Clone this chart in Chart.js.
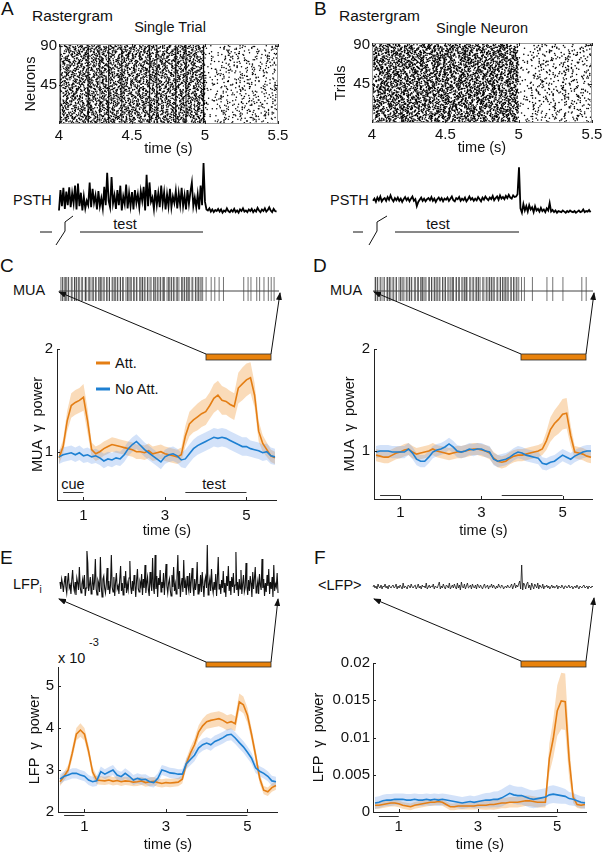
<!DOCTYPE html>
<html><head><meta charset="utf-8">
<script src="https://cdn.jsdelivr.net/npm/chart.js@4/dist/chart.umd.min.js"></script>
<style>
html,body{margin:0;padding:0;background:#fff;overflow:hidden;width:602px;height:853px}
#root{position:relative;width:602px;height:853px;font-family:"Liberation Sans",Arial,sans-serif;color:#111}
canvas{position:absolute}
.t{position:absolute;line-height:1;white-space:nowrap}
.c{transform:translateX(-50%)}
svg{position:absolute;left:0;top:0}
</style></head><body><div id="root">
<div class="t" style="left:1px;top:-1px;font-size:19px">A</div>
<div class="t" style="left:32px;top:8px;font-size:15.5px">Rastergram</div>
<div class="t c" style="left:170px;top:20px;font-size:14.5px">Single Trial</div>
<div class="t" style="left:314px;top:-1px;font-size:19px">B</div>
<div class="t" style="left:339px;top:8px;font-size:15.5px">Rastergram</div>
<div class="t c" style="left:482px;top:21px;font-size:14.5px">Single Neuron</div>
<div class="t" style="left:13px;top:193px;font-size:14.5px">PSTH</div>
<div class="t c" style="left:125px;top:217px;font-size:14.5px">test</div>
<div class="t" style="left:330px;top:193px;font-size:14.5px">PSTH</div>
<div class="t c" style="left:438px;top:217px;font-size:14.5px">test</div>
<div class="t" style="left:0px;top:256px;font-size:19px">C</div>
<div class="t" style="left:13px;top:283px;font-size:14.5px">MUA</div>
<div class="t" style="left:313px;top:256px;font-size:19px">D</div>
<div class="t" style="left:330px;top:283px;font-size:14.5px">MUA</div>
<div class="t" style="left:115px;top:356px;font-size:14.5px">Att.</div>
<div class="t" style="left:115px;top:382px;font-size:14.5px">No Att.</div>
<div class="t c" style="left:73px;top:477px;font-size:14.5px">cue</div>
<div class="t c" style="left:214px;top:477px;font-size:14.5px">test</div>
<div class="t" style="left:0px;top:548px;font-size:19px">E</div>
<div class="t" style="left:13px;top:577px;font-size:14.5px">LFP<sub style="font-size:10px">i</sub></div>
<div class="t" style="left:314px;top:548px;font-size:19px">F</div>
<div class="t" style="left:318px;top:578px;font-size:14.5px">&lt;LFP&gt;</div>
<div class="t" style="left:58px;top:651px;font-size:14.5px">x 10</div>
<div class="t" style="left:89px;top:637px;font-size:11px">-3</div>
<svg id="ov" width="602" height="853">
<defs><marker id="ah" markerWidth="8" markerHeight="6" refX="7" refY="3" orient="auto" markerUnits="userSpaceOnUse"><path d="M0,0 L8,3 L0,6 z" fill="#111"/></marker></defs>
<g stroke="#444" stroke-width="1">
<line x1="59" y1="291" x2="279" y2="291"/><line x1="373" y1="291" x2="593" y2="291"/>
</g>
<g stroke="#111" stroke-width="1" fill="none">
<line x1="206" y1="354" x2="59" y2="292" marker-end="url(#ah)"/>
<line x1="271" y1="354" x2="280" y2="293" marker-end="url(#ah)"/>
<line x1="521" y1="354" x2="374" y2="292" marker-end="url(#ah)"/>
<line x1="586" y1="354" x2="594" y2="293" marker-end="url(#ah)"/>
<line x1="206" y1="662" x2="59" y2="599" marker-end="url(#ah)"/>
<line x1="271" y1="662" x2="278" y2="599" marker-end="url(#ah)"/>
<line x1="521" y1="661" x2="374" y2="599" marker-end="url(#ah)"/>
<line x1="586" y1="661" x2="594" y2="598" marker-end="url(#ah)"/>
<line x1="40" y1="232" x2="52" y2="232"/><polyline points="56,245 65,231 65,222 73,216"/><line x1="80" y1="232" x2="203" y2="232"/>
<line x1="353" y1="232" x2="363" y2="232"/><polyline points="369,245 377,231 377,222 387,216"/><line x1="395" y1="232" x2="519" y2="232"/>
</g>
<g fill="#E8820C" stroke="#2a2a2a" stroke-width="0.8">
<rect x="206" y="354" width="65" height="6"/><rect x="521" y="354" width="65" height="6"/>
<rect x="206" y="662" width="65" height="5"/><rect x="521" y="661" width="65" height="6"/>
</g>
<line x1="96" y1="363" x2="110" y2="363" stroke="rgb(228,126,20)" stroke-width="3"/>
<line x1="96" y1="389" x2="110" y2="389" stroke="rgb(30,128,210)" stroke-width="3"/>
</svg>
</div>
<script>
// ---------------- DATA ----------------
// Rasters: inter-spike gaps (base36 characters). Each of the 90 rows reads a gap sequence starting at its own offset.
const rasterOffsets = [0,73,141,28,115,52,167,9,96,134,41,182,63,17,150,88,5,121,59,176,33,104,148,71,12,159,85,26,131,47,
 186,99,64,3,143,112,38,171,80,21,157,127,55,94,10,180,67,139,30,108,162,45,86,1,123,154,76,36,169,101,
 14,137,58,92,183,24,117,49,145,6,173,82,129,40,160,19,105,65,152,31,178,90,8,125,61,164,44,110,135,77];
// A (single trial): 4-5 s gaps in 2.5 ms units, 5-5.5 s gaps in 5 ms units
const gapsA_test = "5b2h19d3k7a4f62m8c1e5t3g47b9j2a6r4c18e3h5d92o6f1k4b73a8i2g5c6p14e9d3b7h2a58l6f1c4j93e2b7a5s1d86g3k2c9f4a71h5e3m6b2d8a4q19c7g3f5b2e64i1d8a3h7c25k9b4f6e1a3n8d5g2c7b41j6h3e9a2";
const gapsA_after = "k7qfm3tj9rbo2wgl5pdsi8nh4ua6ecv1mk9qj3tfr7lb2oh5gw8ps4dn6ie1ku3rm9ja7qf2tl5bh8og4wd6sc1pn3ie9kr";
// synchronous events (vertical stripes) in raster A, seconds, and their strength
const syncTimesA = [4.01,4.2,4.28,4.34,4.43,4.62,4.67,4.8,4.87,4.99];
const syncAlphaA = [0.7,0.8,0.45,0.85,0.6,0.75,0.6,0.8,0.7,1];
// B (single neuron, 90 trials)
const gapsB_test = "37a1p2258c4k916b3e1174g2d9o53h1a26c8m14572f3b1ie9342k7d61ja5383c1h4q7296e2b5l18d4g33a6172n5c9f41b27e3k86d2a1i45g7c39h6e14b2r8a5d3716f2c4j95b1g83e7a2m46d51c9h3b8274k1f6a3o5e2d84";
const gapsB_after = "gm4rkd8tqh2sfj6pbn9lwe3oic7uag5rmk1tdq8hsj4fpl6bnw2eoi9cgu3krm7qtd5hfs1jpb8lnw4eoi6cga2rkm";
const rasterXTicks = [4, 4.5, 5, 5.5];
const rasterYTicks = [45, 90];

// PSTH, 10 ms bins from 4.00 s (arbitrary units)
const psthA = [12,50,20,54,15,47,22,55,18,44, 25,58,14,62,20,45,12,38,16,30, 22,64,18,52,26,40,14,48,20,35,
 16,56,22,82,30,18,74,25,40,15, 50,22,58,12,38,24,60,16,44,20, 46,14,50,26,42,18,48,30,56,12,
 78,20,64,28,36,15,50,22,44,18, 58,24,46,14,42,20,52,18,38,26, 48,16,44,22,54,20,40,14,50,24,
 46,64,20,36,18,42,14,58,22,100, 28, 14,12,16,10,14,9,13,11,15,10, 14,8,12,10,16,11,9,13,10,15,
 9,12,8,14,11,16,10,12,9,14, 11,15,9,13,10,17,12,9,14,11, 16,10,13,18,12,9,15,11,10];
const psthB = [30,34,28,36,31,38,29,33,35,30, 37,32,40,33,29,35,31,36,30,34, 28,33,37,31,35,29,34,38,30,33,
 20,28,32,36,30,34,29,33,35,31, 37,30,34,28,33,36,31,35,29,34, 32,36,30,34,38,31,29,35,33,37,
 30,34,31,36,29,33,38,32,35,30, 34,31,37,33,29,36,32,38,34,31, 36,33,39,31,35,38,32,40,34,37,
 33,39,35,41,36,34,40,37,38,42, 92, 16,8,24,12,20,10,22,14,18,9, 20,12,15,10,17,11,14,9,16,12,
 26,10,13,9,12,8,11,10,9,12, 10,8,11,9,12,10,9,11,8,10, 12,9,10,14,9,11,10,13,9];

// MUA spike trains: dense part gaps in 2 ms units (base36) from 4 s; later spikes in ms after 5 s
const muaDenseC = "35271462938152647392184563729153648271935462817395246183729451638274915637281495362718459362715483927164583917263548192736451829374651";
const muaLateC = [10,45,70,100,130,270,300,320,360,380,410,440,460,480];
const muaDenseD = "41628375916247381952648371629473815264937182546391728465319273846152947381625948371625493817263549182736458192374651827394651";
const muaLateD = [15,35,90,190,230,300,430,460];

// LFP traces over 4-5.5 s
const lfpE = [3,-4,6,1,-7,2,9,-2,-8,4,12,-3,0,-9,5,15,-1,-6,3,-10,
 7,2,-5,18,-2,-8,1,6,-4,10,-11,-3,34,22,-6,0,8,-9,-2,11,
 -5,3,26,-4,-10,5,2,-7,28,-1,-12,6,9,-3,-8,1,17,-5,4,-9,
 0,30,-2,-7,8,-11,3,12,-4,-1,-9,6,19,-6,2,-10,9,-3,14,-8,
 1,-5,7,24,-2,-9,4,-6,10,0,-12,5,16,-4,-7,3,-1,11,-10,6,
 -3,20,-8,2,8,-5,-11,13,1,-6,27,-2,-9,30,-4,9,-12,7,0,15,
 -7,3,-3,12,-10,5,21,-1,-8,2,6,-5,-11,10,-2,18,-6,1,-9,8,
 30,-4,14,-12,0,7,-7,25,-3,3,-10,9,-1,-6,12,-8,5,17,-2,-11,
 6,-5,2,23,-9,1,-4,10,-7,13,-1,-12,4,8,-3,40,-10,0,6,-6,
 16,-2,-8,3,-5,11,-11,7,28,-4,1,-9,5,-3,14,-7,2,-12,9,-1,
 19,-6,4,-10,8,-2,12,-8,0,33,-5,3,-11,6,-4,15,-9,1,10,-7,
 -3,22,-1,-10,5,-6,9,2,-12,13,-4,7,18,-8,-2,4,-9,11,0,-5,
 26,-3,6,-11,2,-7,10,-1,16,-9,3,-4,8,-12,20,-6,1,-2,12,-8];
const lfpF = [0,2,-1,1,-2,3,0,-1,2,-2,1,0,3,-1,1,-2,2,0,-1,1,
 2,-1,0,3,-2,1,-1,2,0,-2,4,-1,1,0,-2,2,1,-1,3,0,
 -1,1,2,-2,0,3,-1,1,-2,2,0,1,-1,4,-2,0,2,-1,1,0,
 3,-2,1,0,-1,2,5,-2,1,-1,3,0,-2,2,1,-1,4,-2,0,2,
 -1,3,0,-2,4,-1,2,-3,5,0,-1,3,-2,1,4,-1,0,2,-2,3,
 0,-1,2,-2,3,1,-1,2,0,-2,1,3,-1,0,2,-2,1,0,3,-1,
 2,0,-2,1,-1,3,0,-1,2,1,-2,0,1,-1,2,0,-1,1,3,-2,
 1,4,-1,2,0,3,6,-2,22,-3,4,2,-2,3,5,-1,2,-3,4,1,
 -2,3,1,-1,4,-2,2,0,-1,3,-2,1,0,2,-1,1,-2,0,2,-1,
 1,-1,0,2,-2,1,0,-1,2,0,-2,1,1,-1,0,2,-1,0,1,-2,
 0,1,-1,2,0,-2,1,0,-1,1,2,-1,0,1,-2,1,0,-1,1,0];

// gamma power time axis (s)
const tPow = [0.4,0.5,0.6,0.7,0.8,0.9,1.0,1.1,1.2,1.3,1.4,1.5,1.6,1.7,1.8,1.9,2.0,2.1,2.2,2.3,2.4,2.5,2.6,2.7,2.8,2.9,3.0,3.1,3.2,3.3,3.4,3.5,3.6,3.7,3.8,3.9,4.0,4.1,4.2,4.3,4.4,4.5,4.6,4.7,4.8,4.9,5.0,5.1,5.2,5.3,5.4,5.5,5.6,5.7];
const powXTicks = [1, 3, 5];
const stimCue = [0.5, 1.0];
const stimTest = [3.5, 5.0];
// C: MUA gamma power, single neuron
const cAtt = [0.94,1.05,1.3,1.45,1.48,1.5,1.53,1.3,1.02,0.98, 1.0,1.03,1.05,1.07,1.06,1.05,1.04,1.03,1.02,1.0, 1.0,0.99,1.01,0.98,0.99,1.0,0.98,0.97,0.96,0.95, 0.97,1.15,1.27,1.31,1.34,1.37,1.39,1.45,1.52,1.55, 1.5,1.49,1.46,1.44,1.62,1.66,1.7,1.72,1.55,1.2, 1.08,1.02,0.96,0.94];
const cAttSem = [0.06,0.07,0.1,0.12,0.12,0.12,0.13,0.12,0.07,0.07, 0.07,0.07,0.07,0.07,0.07,0.07,0.07,0.07,0.07,0.07, 0.07,0.07,0.07,0.07,0.07,0.07,0.07,0.07,0.07,0.07, 0.07,0.1,0.12,0.12,0.13,0.13,0.13,0.13,0.14,0.14, 0.14,0.13,0.13,0.13,0.15,0.16,0.16,0.15,0.12,0.1, 0.08,0.07,0.06,0.06];
const cNo = [0.95,0.97,0.98,0.99,0.97,0.99,0.96,0.97,0.95,0.96, 0.94,0.91,0.93,0.92,0.94,0.93,0.97,1.03,1.07,1.1, 1.06,1.02,0.99,0.96,0.93,0.9,0.95,0.97,0.98,0.96, 0.92,0.93,0.98,1.03,1.06,1.08,1.1,1.12,1.14,1.13, 1.14,1.13,1.11,1.09,1.07,1.05,1.05,1.03,1.02,1.01, 0.99,1.0,0.96,0.95];
const cNoSem = [0.07,0.07,0.07,0.07,0.07,0.07,0.07,0.07,0.07,0.07, 0.07,0.07,0.07,0.07,0.07,0.07,0.07,0.07,0.07,0.07, 0.07,0.07,0.07,0.07,0.07,0.07,0.07,0.07,0.07,0.07, 0.07,0.09,0.09,0.09,0.09,0.09,0.09,0.09,0.09,0.09, 0.09,0.09,0.09,0.09,0.09,0.09,0.09,0.08,0.08,0.08, 0.08,0.08,0.08,0.08];
// D: MUA gamma power, population
const dAtt = [0.96,0.95,0.94,0.94,0.96,0.98,0.99,1.01,1.02,0.99, 0.97,0.98,0.99,1.0,1.02,1.0,0.99,0.98,0.97,0.98, 0.99,0.99,1.0,1.01,1.02,1.02,1.01,1.0,0.98,0.93, 0.9,0.89,0.9,0.93,0.95,0.96,0.96,0.97,0.98,0.99, 1.0,1.02,1.1,1.21,1.27,1.31,1.36,1.37,1.15,0.99, 0.98,0.97,0.95,0.94];
const dAttSem = [0.06,0.06,0.06,0.06,0.06,0.06,0.06,0.06,0.06,0.06, 0.06,0.06,0.06,0.06,0.06,0.06,0.06,0.06,0.06,0.06, 0.06,0.06,0.06,0.06,0.06,0.06,0.06,0.06,0.06,0.06, 0.06,0.06,0.06,0.06,0.06,0.06,0.06,0.06,0.06,0.06, 0.06,0.06,0.09,0.12,0.13,0.14,0.15,0.15,0.1,0.06, 0.06,0.06,0.06,0.06];
const dNo = [0.99,1.0,1.0,1.0,0.99,0.99,0.99,0.99,1.02,0.98, 0.92,0.9,0.9,0.94,0.99,1.01,1.02,1.04,1.07,1.04, 1.0,0.99,1.0,1.02,1.01,1.02,1.02,1.0,0.99,0.92, 0.9,0.91,0.92,0.94,0.97,0.99,0.98,0.96,0.95,0.94, 0.93,0.88,0.87,0.89,0.9,0.93,0.96,0.94,0.92,0.95, 0.97,0.99,1.0,1.0];
const dNoSem = [0.06,0.06,0.06,0.06,0.06,0.06,0.06,0.06,0.06,0.06, 0.06,0.06,0.06,0.06,0.06,0.06,0.06,0.06,0.06,0.06, 0.06,0.06,0.06,0.06,0.06,0.06,0.06,0.06,0.06,0.06, 0.06,0.06,0.06,0.06,0.06,0.06,0.06,0.06,0.06,0.06, 0.06,0.06,0.06,0.06,0.06,0.06,0.06,0.06,0.06,0.06, 0.06,0.06,0.06,0.06];
// E: LFP gamma power (x 10^-3), single site
const eAtt = [2.72,2.85,3.0,3.4,3.85,3.95,3.85,3.45,2.95,2.76, 2.75,2.74,2.76,2.73,2.75,2.72,2.74,2.73,2.71,2.72, 2.74,2.7,2.72,2.73,2.7,2.68,2.7,2.69,2.7,2.71, 2.78,3.15,3.4,3.6,3.9,4.05,4.15,4.18,4.2,4.22, 4.18,4.12,4.15,4.1,4.62,4.55,4.3,3.85,3.35,2.8, 2.52,2.48,2.58,2.63];
const eAttSem = [0.1,0.1,0.12,0.14,0.15,0.16,0.15,0.14,0.12,0.1, 0.1,0.1,0.1,0.1,0.1,0.1,0.1,0.1,0.1,0.1, 0.1,0.1,0.1,0.1,0.1,0.1,0.1,0.1,0.1,0.1, 0.1,0.12,0.14,0.15,0.16,0.17,0.17,0.18,0.18,0.18, 0.18,0.18,0.18,0.18,0.2,0.2,0.18,0.15,0.15,0.12, 0.1,0.1,0.1,0.1];
const eNo = [2.78,2.85,2.88,2.92,2.92,2.88,2.85,2.76,2.72,2.74, 2.96,2.9,2.95,3.0,2.88,2.84,2.92,2.85,2.76,2.8, 2.77,2.78,2.72,2.7,2.8,3.0,2.97,2.93,2.92,2.9, 2.9,3.15,3.25,3.35,3.52,3.6,3.64,3.6,3.68,3.72, 3.77,3.83,3.85,3.76,3.65,3.55,3.42,3.28,3.05,2.97, 2.92,2.85,2.74,2.72];
const eNoSem = [0.12,0.12,0.12,0.12,0.12,0.12,0.12,0.12,0.12,0.12, 0.12,0.12,0.12,0.12,0.12,0.12,0.12,0.12,0.12,0.12, 0.12,0.12,0.12,0.12,0.12,0.12,0.12,0.12,0.12,0.12, 0.12,0.13,0.14,0.14,0.14,0.14,0.14,0.14,0.14,0.14, 0.14,0.14,0.14,0.14,0.14,0.14,0.14,0.13,0.12,0.12, 0.12,0.12,0.12,0.12];
// F: LFP gamma power (x 10^-3), averaged LFP
const fAtt = [0.9,0.9,1.0,1.1,1.2,1.2,1.1,0.9,0.8,0.7, 0.9,1.0,1.1,1.2,1.3,1.3,1.4,1.3,1.0,0.7, 0.7,0.8,0.8,0.8,0.8,0.8,0.9,0.9,0.9,1.0, 1.0,1.1,1.2,1.2,1.3,1.3,1.3,1.4,1.5,1.5, 1.4,1.3,1.3,1.3,7.2,9.9,13.6,14.9,14.8,7.0, 2.0,1.0,0.9,1.0];
const fAttSem = [0.45,0.45,0.45,0.45,0.45,0.45,0.45,0.45,0.45,0.45, 0.45,0.45,0.45,0.45,0.45,0.45,0.45,0.45,0.45,0.45, 0.45,0.45,0.45,0.45,0.45,0.45,0.5,0.55,0.6,0.65, 0.7,0.7,0.7,0.7,0.7,0.7,0.7,0.7,0.7,0.7, 0.7,0.7,0.7,0.7,2.0,2.6,3.4,3.8,3.8,2.5, 0.8,0.45,0.45,0.45];
const fNo = [1.2,1.3,1.5,1.6,1.6,1.7,1.7,1.7,1.6,1.6, 1.7,1.6,1.6,1.7,1.6,1.7,1.6,1.7,1.6,1.5, 1.4,1.3,1.2,1.3,1.4,1.3,1.4,1.5,1.6,1.6, 1.7,1.7,1.9,2.2,2.5,2.3,2.2,2.2,2.0,1.8, 1.7,1.8,1.9,2.0,2.3,2.4,2.3,2.2,2.1,1.8, 1.7,1.5,1.3,1.2];
const fNoSem = [0.8,0.8,0.8,0.8,0.8,0.8,0.8,0.8,0.8,0.8, 0.8,0.8,0.8,0.8,0.8,0.8,0.8,0.8,0.8,0.8, 0.8,0.8,0.8,0.8,0.8,0.8,0.85,0.9,0.95,1.0, 1.05,1.1,1.15,1.2,1.2,1.2,1.2,1.2,1.2,1.2, 1.2,1.2,1.2,1.2,1.2,1.2,1.15,1.1,1.0,0.9, 0.85,0.8,0.8,0.8];

// ---------------- DRAWING ----------------
const FONT = '"Liberation Sans", Arial, sans-serif';
const ORANGE = 'rgb(228,126,20)', BLUE = 'rgb(30,128,210)';
const ORANGE_BAND = 'rgba(242,160,70,0.38)', BLUE_BAND = 'rgba(110,160,235,0.3)';
Chart.defaults.font.family = FONT;
Chart.defaults.color = '#111';
const root = document.getElementById('root');
const ov = document.getElementById('ov');

function mk(area, yW, xH, datasets, scales, decoOpts) {
  const pad = 12;
  const c = document.createElement('canvas');
  const w = area[2] - area[0] + yW + 2 * pad, h = area[3] - area[1] + xH + 2 * pad;
  c.width = w; c.height = h;
  c.style.left = (area[0] - yW - pad) + 'px'; c.style.top = (area[1] - pad) + 'px';
  root.insertBefore(c, ov);
  return new Chart(c, {
    type: 'scatter', data: { datasets },
    options: { responsive: false, animation: false, devicePixelRatio: 1, events: [],
      layout: { padding: pad }, plugins: { legend: { display: false }, tooltip: { enabled: false } }, scales },
    plugins: decoOpts ? [deco(decoOpts)] : []
  });
}
function hAxis(min, max, ticks, o) {
  o = o || {};
  if (o.display === false) return { type: 'linear', min, max, display: false };
  return { type: 'linear', min, max, position: 'bottom',
    afterBuildTicks: a => { a.ticks = ticks.map(v => ({ value: v })); },
    afterFit: s => { s.height = o.h; s.paddingLeft = 0; s.paddingRight = 0; },
    grid: { display: false, drawTicks: false }, border: { display: false },
    ticks: { padding: o.tp, color: '#111', font: { family: FONT, size: 15 }, maxRotation: 0, autoSkip: false, callback: v => String(v) },
    title: { display: true, text: 'time (s)', padding: 0, color: '#111', font: { family: FONT, size: 14.5 } } };
}
function vAxis(min, max, ticks, o) {
  o = o || {};
  if (o.display === false) return { type: 'linear', min, max, display: false };
  return { type: 'linear', min, max, position: 'left',
    afterBuildTicks: a => { a.ticks = ticks.map(v => ({ value: v })); },
    afterFit: s => { s.width = o.w; s.paddingTop = 0; s.paddingBottom = 0; },
    grid: { display: false, drawTicks: false }, border: { display: false },
    ticks: { padding: o.tp, color: '#111', font: { family: FONT, size: 15 }, autoSkip: false, callback: o.fmt || (v => String(v)) },
    title: { display: true, text: o.title, padding: 0, color: '#111', font: { family: FONT, size: 14.5 } } };
}
function deco(o) {
  return { id: 'deco', afterDatasetsDraw(ch) {
    const ctx = ch.ctx, a = ch.chartArea;
    const L = (x1, y1, x2, y2) => { ctx.beginPath(); ctx.moveTo(x1, y1); ctx.lineTo(x2, y2); ctx.stroke(); };
    ctx.save(); ctx.lineWidth = 1;
    if (o.box) { ctx.strokeStyle = '#9a9a9a'; ctx.strokeRect(a.left + 0.5, a.top + 0.5, a.right - a.left - 1, a.bottom - a.top - 1); }
    ctx.strokeStyle = '#222';
    if (o.spine) { L(a.left + 0.5, a.top, a.left + 0.5, a.bottom + 0.5); L(a.left, a.bottom + 0.5, a.right, a.bottom + 0.5); }
    if (o.xt) for (const v of o.xt) { const p = Math.round(ch.scales.x.getPixelForValue(v)) + 0.5; L(p, a.bottom, p, a.bottom - 3); if (o.box) L(p, a.top, p, a.top + 3); }
    if (o.yt) for (const v of o.yt) { const p = Math.round(ch.scales.y.getPixelForValue(v)) + 0.5; L(a.left, p, a.left + 3, p); if (o.box) L(a.right, p, a.right - 3, p); }
    if (o.stim) { ctx.strokeStyle = '#333'; for (const s of o.stim) { const y = Math.round(a.bottom + o.stimDy) + 0.5; L(ch.scales.x.getPixelForValue(s[0]), y, ch.scales.x.getPixelForValue(s[1]), y); } }
    ctx.restore();
  } };
}
// read gaps cyclically from a gap string, starting at a given index
function readGaps(str, start, t0, unit, tEnd) {
  const out = []; let t = t0, i = start % str.length;
  for (let n = 0; n < 500; n++) { t += parseInt(str[i], 36) * unit; if (t > tEnd) break; out.push(t); i = (i + 1) % str.length; }
  return out;
}
function rasterPts(gTest, unitTest, gAfter) {
  const pts = [];
  rasterOffsets.forEach((o, r) => {
    readGaps(gTest, o, 4.0, unitTest, 5.0).forEach(t => pts.push({ x: t, y: r + 1 }));
    readGaps(gAfter, o, 5.0, 0.005, 5.5).forEach(t => pts.push({ x: t, y: r + 1 }));
  });
  return pts;
}
const dots = (data, color, r) => ({ data, pointRadius: r, pointBorderWidth: 0, pointBackgroundColor: color, showLine: false });

// Raster A
const dsA = [dots(rasterPts(gapsA_test, 0.0025, gapsA_after), '#000', 0.75)];
syncTimesA.forEach((t, i) => dsA.push(dots(rasterOffsets.map((_, r) => ({ x: t, y: r + 1 })), 'rgba(0,0,0,' + syncAlphaA[i] + ')', 0.7)));
mk([59, 44, 278, 124], 37, 34, dsA,
  { x: hAxis(4, 5.5, rasterXTicks, { h: 34, tp: 3 }), y: vAxis(0.5, 92, rasterYTicks, { w: 37, tp: 2, title: 'Neurons' }) },
  { box: true, xt: rasterXTicks, yt: rasterYTicks });
// Raster B
mk([372, 43, 592, 123], 40, 34, [dots(rasterPts(gapsB_test, 0.0025, gapsB_after), '#000', 0.8)],
  { x: hAxis(4, 5.5, rasterXTicks, { h: 34, tp: 3 }), y: vAxis(0.5, 92, rasterYTicks, { w: 40, tp: 2, title: 'Trials' }) },
  { box: true, xt: rasterXTicks, yt: rasterYTicks });

// PSTH
const psthLine = arr => ({ data: arr.map((v, i) => ({ x: 4 + i * 0.01, y: v })), showLine: true, borderColor: '#000', borderWidth: 1.8, pointRadius: 0, clip: false });
mk([59, 163, 278, 217], 0, 0, [psthLine(psthA)], { x: hAxis(4, 5.5, [], { display: false }), y: vAxis(0, 100, [], { display: false }) });
mk([373, 163, 592, 217], 0, 0, [psthLine(psthB)], { x: hAxis(4, 5.5, [], { display: false }), y: vAxis(0, 100, [], { display: false }) });

// MUA spike trains
function muaPts(dense, late) {
  return readGaps(dense, 0, 4.0, 0.002, 5.0).concat(late.map(ms => 5 + ms / 1000)).map(t => ({ x: t, y: 0 }));
}
const muaDs = pts => ({ data: pts, pointStyle: 'line', rotation: 90, pointRadius: 12, pointBorderWidth: 1, pointBorderColor: 'rgba(0,0,0,0.55)', showLine: false, clip: false });
mk([59, 277, 278, 301], 0, 0, [muaDs(muaPts(muaDenseC, muaLateC))], { x: hAxis(4, 5.5, [], { display: false }), y: vAxis(-1, 1, [], { display: false }) });
mk([373, 277, 593, 301], 0, 0, [muaDs(muaPts(muaDenseD, muaLateD))], { x: hAxis(4, 5.5, [], { display: false }), y: vAxis(-1, 1, [], { display: false }) });

// LFP traces
const lfpLine = (arr, w) => ({ data: arr.map((v, i) => ({ x: i, y: v })), showLine: true, borderColor: '#111', borderWidth: w, pointRadius: 0, clip: false });
mk([60, 545, 278, 600], 0, 0, [lfpLine(lfpE, 1.1)], { x: hAxis(0, lfpE.length - 1, [], { display: false }), y: vAxis(-15, 40, [], { display: false }) });
mk([373, 560, 593, 600], 0, 0, [lfpLine(lfpF, 0.8)], { x: hAxis(0, lfpF.length - 1, [], { display: false }), y: vAxis(-13, 27, [], { display: false }) });

// gamma power panels
function powerSets(att, attSem, no, noSem) {
  const line = (arr, col, ord) => ({ data: tPow.map((t, i) => ({ x: t, y: arr[i] })), showLine: true, borderColor: col, borderWidth: 1.6, pointRadius: 0, order: ord });
  const edge = (arr, sem, sign, fill, col, ord) => ({ data: tPow.map((t, i) => ({ x: t, y: arr[i] + sign * sem[i] })), showLine: true, borderWidth: 0, borderColor: 'rgba(0,0,0,0)', pointRadius: 0, fill, backgroundColor: col, order: ord });
  return [line(att, ORANGE, 1), line(no, BLUE, 0),
    edge(att, attSem, 1, '+1', ORANGE_BAND, 3), edge(att, attSem, -1, false, ORANGE_BAND, 3),
    edge(no, noSem, 1, '+1', BLUE_BAND, 2), edge(no, noSem, -1, false, BLUE_BAND, 2)];
}
mk([57, 349, 277, 500], 28, 40, powerSets(cAtt, cAttSem, cNo, cNoSem),
  { x: hAxis(0.35, 5.75, powXTicks, { h: 40, tp: 7 }), y: vAxis(0.53, 2, [1, 2], { w: 28, tp: 4, title: 'MUA  \u03b3  power' }) },
  { spine: true, xt: powXTicks, yt: [1, 2], stim: [stimCue, stimTest], stimDy: -8 });
mk([374, 349, 593, 499], 33, 41, powerSets(dAtt, dAttSem, dNo, dNoSem),
  { x: hAxis(0.35, 5.75, powXTicks, { h: 41, tp: 5 }), y: vAxis(0.53, 2, [1, 2], { w: 33, tp: 4, title: 'MUA  \u03b3  power' }) },
  { spine: true, xt: powXTicks, yt: [1, 2], stim: [stimCue, stimTest], stimDy: -4 });
mk([58, 667, 278, 812], 32, 42, powerSets(eAtt, eAttSem, eNo, eNoSem),
  { x: hAxis(0.35, 5.75, powXTicks, { h: 42, tp: 6 }), y: vAxis(2, 5.45, [2, 3, 4, 5], { w: 32, tp: 4, title: 'LFP  \u03b3  power' }) },
  { spine: true, xt: powXTicks, yt: [2, 3, 4, 5], stim: [stimCue, stimTest], stimDy: 3 });
mk([373, 663, 587, 812], 63, 42, powerSets(fAtt, fAttSem, fNo, fNoSem),
  { x: hAxis(0.35, 5.75, powXTicks, { h: 42, tp: 6 }), y: vAxis(0, 20, [0, 5, 10, 15, 20], { w: 63, tp: 3, title: 'LFP  \u03b3  power', fmt: v => v === 0 ? '0' : String(v / 1000) }) },
  { spine: true, xt: powXTicks, yt: [0, 5, 10, 15, 20], stim: [stimCue, stimTest], stimDy: 4 });
</script>
</body></html>
